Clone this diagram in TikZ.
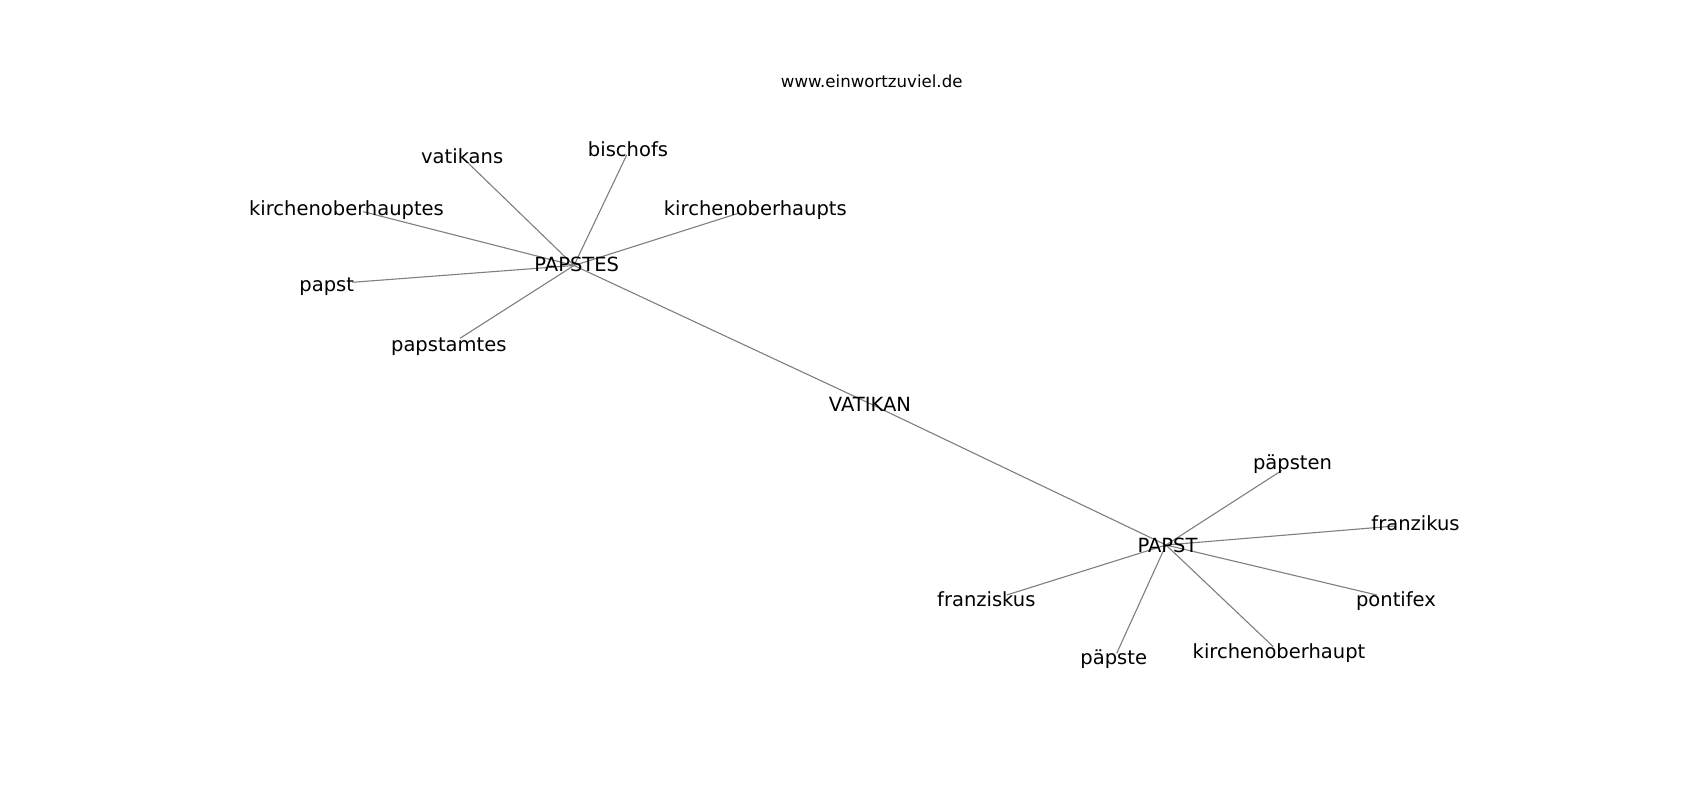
\documentclass[tikz,border=0pt]{standalone}
\usepackage{fontspec}
\setmainfont{DejaVu Sans}
\begin{document}
\begin{tikzpicture}[x=0.01in,y=-0.01in,
  edge/.style={draw=gray,line width=0.8pt},
  lbl/.style={anchor=base,inner sep=0pt,yshift=-1.1pt,font=\fontsize{14.1}{17}\selectfont},
  ttl/.style={anchor=base,inner sep=0pt,font=\fontsize{12}{14}\selectfont}]
\useasboundingbox[fill=white] (0,0) rectangle (1700,800);
% node positions (edge end points)
\coordinate (hPAPSTES) at (574,265.5);
\coordinate (cvatikans) at (465,160);
\coordinate (cbischofs) at (626.7,155);
\coordinate (ckirchenoberhauptes) at (363.3,211.7);
\coordinate (ckirchenoberhaupts) at (738.3,213.3);
\coordinate (cpapst) at (352.5,282.3);
\coordinate (cpapstamtes) at (460,338.3);
\coordinate (hVATIKAN) at (870,403.6);
\coordinate (hPAPST) at (1166,545);
\coordinate (cpaepsten) at (1281.7,470.5);
\coordinate (cfranzikus) at (1395,526);
\coordinate (cpontifex) at (1376.7,595);
\coordinate (ckirchenoberhaupt) at (1273.3,646.7);
\coordinate (cpaepste) at (1116.7,653.3);
\coordinate (cfranziskus) at (1006.7,595);
% edges
\draw[edge] (hPAPSTES) -- (cvatikans);
\draw[edge] (hPAPSTES) -- (cbischofs);
\draw[edge] (hPAPSTES) -- (ckirchenoberhauptes);
\draw[edge] (hPAPSTES) -- (ckirchenoberhaupts);
\draw[edge] (hPAPSTES) -- (cpapst);
\draw[edge] (hPAPSTES) -- (cpapstamtes);
\draw[edge] (hPAPSTES) -- (hVATIKAN);
\draw[edge] (hVATIKAN) -- (hPAPST);
\draw[edge] (hPAPST) -- (cpaepsten);
\draw[edge] (hPAPST) -- (cfranzikus);
\draw[edge] (hPAPST) -- (cpontifex);
\draw[edge] (hPAPST) -- (ckirchenoberhaupt);
\draw[edge] (hPAPST) -- (cpaepste);
\draw[edge] (hPAPST) -- (cfranziskus);
% labels
\node[ttl] (title) at (871.7,88) {www.einwortzuviel.de};
\node[lbl] (lvatikans) at (462.2,161.7) {vatikans};
\node[lbl] (lbischofs) at (628,155) {bischofs};
\node[lbl] (lkirchenoberhauptes) at (346.5,214) {kirchenoberhauptes};
\node[lbl] (lkirchenoberhaupts) at (755.3,214) {kirchenoberhaupts};
\node[lbl] (lPAPSTES) at (576.7,270) {PAPSTES};
\node[lbl] (lpapst) at (326.7,289.5) {papst};
\node[lbl] (lpapstamtes) at (448.8,350) {papstamtes};
\node[lbl] (lVATIKAN) at (870,410) {VATIKAN};
\node[lbl] (lpaepsten) at (1292.5,468.3) {päpsten};
\node[lbl] (lfranzikus) at (1415.5,529.3) {franzikus};
\node[lbl] (lPAPST) at (1167.5,550.7) {PAPST};
\node[lbl] (lfranziskus) at (986.3,605) {franziskus};
\node[lbl] (lpontifex) at (1396,605) {pontifex};
\node[lbl] (lkirchenoberhaupt) at (1279,657.3) {kirchenoberhaupt};
\node[lbl] (lpaepste) at (1113.7,663.3) {päpste};
\end{tikzpicture}
\end{document}
